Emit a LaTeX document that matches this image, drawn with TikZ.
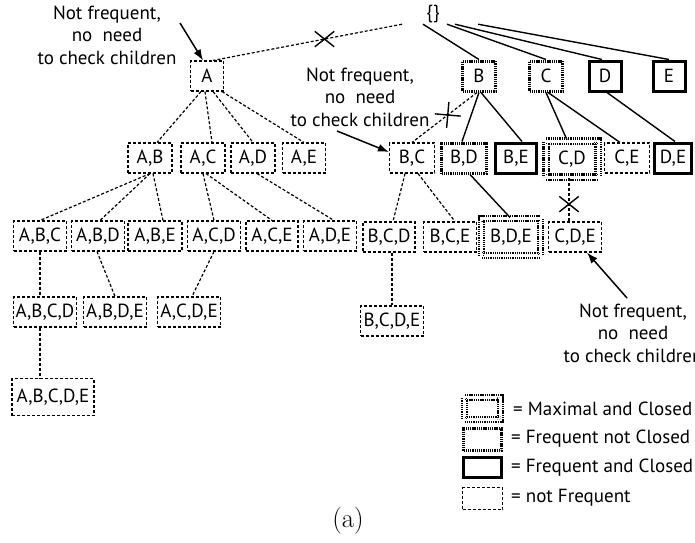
\documentclass[tikz,border=0pt]{standalone}
\usepackage{fontspec}
\newfontfamily\ptsans{PT Sans}
\usetikzlibrary{shapes.misc,arrows.meta}
\begin{document}
\begin{tikzpicture}[x=1pt,y=-1pt,
  box/.style={draw, inner sep=0pt, font=\ptsans\fontsize{19}{22}\selectfont, minimum height=30pt},
  nf/.style={box, line width=1.1pt, dash pattern=on 3pt off 2pt},
  fnc/.style={box, line width=3pt, dash pattern=on 1.3pt off 0.9pt},
  fc/.style={box, line width=3pt},
  mx/.style={box, line width=2.2pt, double, double distance=3pt, dash pattern=on 1.3pt off 0.9pt},
  sol/.style={line width=1.4pt},
  dsh/.style={line width=1.2pt, dash pattern=on 3pt off 2pt},
  ann/.style={align=center, inner sep=0pt, font=\ptsans\fontsize{19}{22.5}\selectfont},
  leg/.style={anchor=west, inner sep=0pt, font=\ptsans\fontsize{19}{22}\selectfont},
  arr/.style={line width=1.5pt, -{Latex[length=11pt,width=8pt]}},
  xmark/.style={cross out, draw, solid, line width=1.4pt, minimum width=18pt, minimum height=14pt, inner sep=0pt}
]
\useasboundingbox (0,0) rectangle (695,542);

% root
\node[inner sep=0pt, minimum height=20pt, font=\ptsans\fontsize{19}{22}\selectfont] (root) at (433,14) {\{\}};

% level 1
\node[nf,  minimum width=33pt] (A) at (207,76) {A};
\node[fnc, minimum width=33pt] (B) at (479,76) {B};
\node[fnc, minimum width=33pt] (C) at (546,76) {C};
\node[fc,  minimum width=32pt] (D) at (605,76) {D};
\node[fc,  minimum width=32pt] (E) at (669,76) {E};

% level 2
\node[nf,  minimum width=44pt] (AB) at (150,158) {A,B};
\node[nf,  minimum width=44pt] (AC) at (203,158) {A,C};
\node[nf,  minimum width=44pt] (AD) at (253,158) {A,D};
\node[nf,  minimum width=43pt] (AE) at (304,158) {A,E};
\node[nf,  minimum width=45pt] (BC) at (412,158) {B,C};
\node[fnc, minimum width=45pt] (BD) at (464,158) {B,D};
\node[fc,  minimum width=41pt] (BE) at (516,158) {B,E};
\node[mx,  minimum width=52pt, minimum height=36pt] (CD) at (572,159) {C,D};
\node[nf,  minimum width=45pt] (CE) at (627,158) {C,E};
\node[fc,  minimum width=37pt] (DE) at (673,158) {D,E};

% level 3
\node[nf, minimum width=53pt] (ABC) at (40,236) {A,B,C};
\node[nf, minimum width=53pt] (ABD) at (98,236) {A,B,D};
\node[nf, minimum width=54pt] (ABE) at (155,236) {A,B,E};
\node[nf, minimum width=53pt] (ACD) at (214,236) {A,C,D};
\node[nf, minimum width=52pt] (ACE) at (272,236) {A,C,E};
\node[nf, minimum width=53pt] (ADE) at (330,236) {A,D,E};
\node[nf, minimum width=52pt] (BCD) at (389,237) {B,C,D};
\node[nf, minimum width=53pt] (BCE) at (450,237) {B,C,E};
\node[mx, minimum width=59pt, minimum height=37pt] (BDE) at (511,237) {B,D,E};
\node[nf, minimum width=53pt] (CDE) at (575,237) {C,D,E};

% level 4
\node[nf, minimum width=63pt] (ABCD) at (45,312) {A,B,C,D};
\node[nf, minimum width=63pt] (ABDE) at (115,312) {A,B,D,E};
\node[nf, minimum width=63pt] (ACDE) at (189,312) {A,C,D,E};
\node[nf, minimum width=63pt] (BCDE) at (392,321) {B,C,D,E};

% level 5
\node[nf, minimum width=82pt, minimum height=37pt] (ABCDE) at (53,397) {A,B,C,D,E};

% root edges
\draw[dsh] ([xshift=-31pt]root.south) -- node[xmark, pos=0.41] (x1) {} ([xshift=6pt]A.north);
\draw[sol] ([xshift=-10pt]root.south) -- (B.north);
\draw[sol] ([xshift=14pt]root.south) -- (C.north);
\draw[sol] ([xshift=22pt]root.south) -- ([xshift=-3pt]D.north);
\draw[sol] ([xshift=45pt]root.south) -- (E.north);

% A subtree
\draw[dsh] ([xshift=-6pt]A.south) -- ([xshift=7pt]AB.north);
\draw[dsh] ([xshift=-2pt]A.south) -- ([xshift=9pt]AC.north);
\draw[dsh] ([xshift=6pt]A.south) -- (AD.north);
\draw[dsh] ([xshift=15pt]A.south) -- (AE.north);
\draw[dsh] (AB.south) -- (ABC.north);
\draw[dsh] (AB.south) -- ([xshift=2pt]ABD.north);
\draw[dsh] ([xshift=3pt]AB.south) -- ([xshift=8pt]ABE.north);
\draw[dsh] (AC.south) -- (ACD.north);
\draw[dsh] ([xshift=3pt]AC.south) -- (ACE.north);
\draw[dsh] ([xshift=4pt]AD.south) -- ([xshift=4pt]ADE.north);
\draw[dsh] (ABC.south) -- (ABC.south |- ABCD.north);
\draw[dsh] ([xshift=-1pt]ABD.south) -- (ABDE.north);
\draw[dsh] (ACD.south) -- ([xshift=3pt]ACDE.north);
\draw[dsh] ([xshift=-5pt]ABCD.south) -- ([xshift=-5pt]ABCD.south |- ABCDE.north);

% B, C, D subtrees
\draw[dsh] ([xshift=-2pt]B.south) -- node[xmark, pos=0.45, rotate=40, minimum width=17pt, minimum height=17pt] (x2) {} (BC.north);
\draw[sol] (B.south) -- ([xshift=-2pt]BD.north);
\draw[sol] ([xshift=2pt]B.south) -- ([xshift=6pt]BE.north);
\draw[sol] (C.south) -- ([xshift=-5pt]CD.north);
\draw[sol] ([xshift=2pt]C.south) -- ([xshift=-7pt]CE.north);
\draw[sol] ([xshift=2pt]D.south) -- ([xshift=2pt]DE.north);
\draw[dsh] ([xshift=-7pt]BC.south) -- ([xshift=4pt]BCD.north);
\draw[dsh] ([xshift=6pt]BC.south) -- ([xshift=5pt]BCE.north);
\draw[sol] ([xshift=6pt]BD.south) -- ([xshift=-1pt]BDE.north);
\draw[dsh] ([xshift=-3pt]CD.south) -- node[xmark, pos=0.6] (x3) {} ([xshift=-3pt]CD.south |- CDE.north);
\draw[dsh] (BCDE.north |- BCD.south) -- (BCDE.north);

% annotations
\node[ann] (ann1) at (107,35) {Not frequent,\\no\ \ need\\to check children};
\coordinate (t1) at (180,23);
\draw[arr] (t1) -- ([xshift=-4pt]A.north);
\node[ann] (ann2) at (360,97) {Not frequent,\\no\ \ need\\to check children};
\coordinate (t2) at (337,131);
\draw[arr] (t2) -- ([yshift=6pt]BC.west);
\node[ann] (ann3) at (633,333) {Not frequent,\\no\ \ need\\to check children};
\coordinate (t3) at (627,298);
\draw[arr] (t3) -- ([xshift=12pt]CDE.south);

% legend
\node[mx,  minimum width=36pt, minimum height=22pt] (L1) at (482.5,408.5) {};
\node[fnc, minimum width=38pt, minimum height=22pt] (L2) at (482.5,439.5) {};
\node[fc,  minimum width=38pt, minimum height=20pt] (L3) at (482.5,467.5) {};
\node[nf,  minimum width=40pt, minimum height=22pt] (L4) at (482.5,498.5) {};
\node[leg] (T1) at (513,409) {= Maximal and Closed};
\node[leg] (T2) at (511,439) {= Frequent not Closed};
\node[leg] (T3) at (511,468) {= Frequent and Closed};
\node[leg] (T4) at (511,498) {= not Frequent};

% caption
\node[inner sep=0pt, font=\fontsize{27}{30}\selectfont] (cap) at (348,521) {(a)};
\end{tikzpicture}
\end{document}
